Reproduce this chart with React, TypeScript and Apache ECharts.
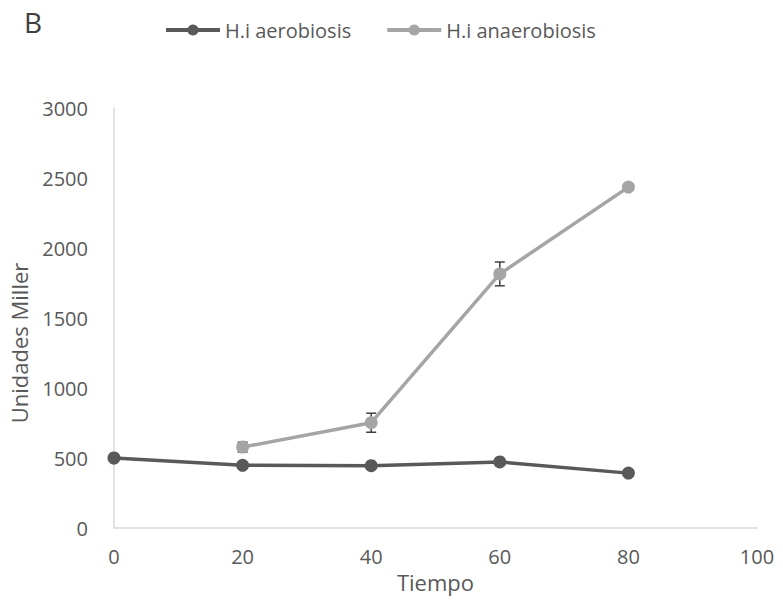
import React, { useEffect, useRef } from "react";
import * as echarts from "echarts";

const times = [0, 20, 40, 60, 80];
const aerobiosis = [500, 448, 445, 472, 392];
const aerobiosisErr = [15, 20, 18, 20, 18];
const anaeroTimes = [20, 40, 60, 80];
const anaerobiosis = [578, 752, 1815, 2435];
const anaerobiosisErr = [35, 68, 85, 20];

const DARK = "#595959";
const LIGHT = "#A5A5A5";
const FONT = "Open Sans";

export default function App() {
  const ref = useRef<HTMLDivElement>(null);
  useEffect(() => {
    if (!ref.current) return;
    const chart = echarts.init(ref.current, undefined, { renderer: "svg" });
    const errData = [
      ...times.map((t, i) => [t, aerobiosis[i] - aerobiosisErr[i], aerobiosis[i] + aerobiosisErr[i]]),
      ...anaeroTimes.map((t, i) => [t, anaerobiosis[i] - anaerobiosisErr[i], anaerobiosis[i] + anaerobiosisErr[i]]),
    ];
    chart.setOption({
      animation: false,
      textStyle: { fontFamily: FONT },
      title: {
        text: "B",
        left: 19,
        top: 3,
        textStyle: { fontFamily: FONT, fontSize: 28, fontWeight: "normal", color: "#404040" },
      },
      legend: {
        top: 15,
        left: 159,
        itemWidth: 54,
        itemHeight: 14,
        itemGap: 34,
        lineStyle: { width: 4 },
        textStyle: { fontFamily: FONT, fontSize: 20, color: DARK },
        data: ["H.i aerobiosis", "H.i anaerobiosis"],
      },
      grid: { left: 114, right: 26, top: 108, bottom: 77, containLabel: false },
      xAxis: {
        type: "value",
        min: 0,
        max: 100,
        interval: 20,
        name: "Tiempo",
        nameLocation: "middle",
        nameGap: 42,
        nameTextStyle: { fontFamily: FONT, fontSize: 22, color: DARK },
        axisLine: { lineStyle: { color: "#D9D9D9", width: 1.5 } },
        axisTick: { show: false },
        splitLine: { show: false },
        axisLabel: { fontFamily: FONT, fontSize: 20, color: DARK, margin: 18 },
      },
      yAxis: {
        type: "value",
        min: 0,
        max: 3000,
        interval: 500,
        name: "Unidades Miller",
        nameLocation: "middle",
        nameGap: 84,
        nameTextStyle: { fontFamily: FONT, fontSize: 22, color: DARK, padding: [0, 50, 0, 0] },
        axisLine: { show: true, lineStyle: { color: "#D9D9D9", width: 1.5 } },
        axisTick: { show: false },
        splitLine: { show: false },
        axisLabel: { fontFamily: FONT, fontSize: 20, color: DARK, margin: 26, formatter: (v: number) => String(v) },
      },
      series: [
        {
          name: "err",
          type: "custom",
          data: errData,
          z: 1,
          renderItem: (params: any, api: any) => {
            const x = api.value(0);
            const lo = api.coord([x, api.value(1)]);
            const hi = api.coord([x, api.value(2)]);
            const w = 5;
            const style = { stroke: "#404040", lineWidth: 1.5 };
            return {
              type: "group",
              children: [
                { type: "line", shape: { x1: lo[0], y1: lo[1], x2: hi[0], y2: hi[1] }, style },
                { type: "line", shape: { x1: lo[0] - w, y1: lo[1], x2: lo[0] + w, y2: lo[1] }, style },
                { type: "line", shape: { x1: hi[0] - w, y1: hi[1], x2: hi[0] + w, y2: hi[1] }, style },
              ],
            };
          },
        },
        {
          name: "H.i aerobiosis",
          type: "line",
          data: times.map((t, i) => [t, aerobiosis[i]]),
          symbol: "circle",
          symbolSize: 13,
          lineStyle: { color: DARK, width: 3.5 },
          itemStyle: { color: DARK },
          z: 3,
        },
        {
          name: "H.i anaerobiosis",
          type: "line",
          data: anaeroTimes.map((t, i) => [t, anaerobiosis[i]]),
          symbol: "circle",
          symbolSize: 13,
          lineStyle: { color: LIGHT, width: 3.5 },
          itemStyle: { color: LIGHT },
          z: 2,
        },
      ],
    });
    return () => chart.dispose();
  }, []);
  return <div ref={ref} style={{ width: 783, height: 605, position: "absolute", left: 0, top: 0 }} />;
}
